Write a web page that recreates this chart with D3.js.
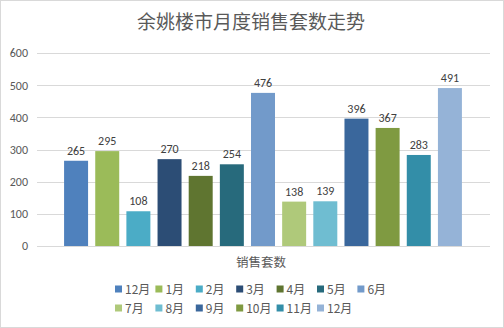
<!DOCTYPE html>
<html>
<head>
<meta charset="utf-8">
<script src="https://cdn.jsdelivr.net/npm/d3@7"></script>
<style>
  html, body { margin: 0; padding: 0; background: #fff; }
  svg { display: block; font-family: "Microsoft YaHei", "Noto Sans CJK SC", sans-serif; }
</style>
</head>
<body>
<svg id="chart" width="504" height="328"></svg>
<script>
// Monthly sales (units) — each month is its own series
const months = ["12月", "1月", "2月", "3月", "4月", "5月", "6月", "7月", "8月", "9月", "10月", "11月", "12月"];
const sales = [265, 295, 108, 270, 218, 254, 476, 138, 139, 396, 367, 283, 491];
const colors = ["#4F81BD", "#9BBB59", "#4BACC6", "#2C4D75", "#5F7530", "#276A7C", "#729ACA",
                "#AFC97A", "#6FBDD1", "#3A679C", "#7F9A41", "#338EA8", "#95B3D7"];
const yTicks = [0, 100, 200, 300, 400, 500, 600];
const title = "余姚楼市月度销售套数走势";
const categoryLabel = "销售套数";

const svg = d3.select("#chart");
const W = 504, H = 328;

// outer frame
svg.append("rect").attr("x", 0.5).attr("y", 0.5).attr("width", W - 1).attr("height", H - 1)
  .attr("fill", "#fff").attr("stroke", "#d9d9d9");

// title
svg.append("text").attr("x", 251).attr("y", 29).attr("text-anchor", "middle")
  .attr("font-size", 19).attr("fill", "#595959").text(title);

const plot = { left: 37, right: 490, top: 53, bottom: 246 };

const y = d3.scaleLinear().domain([0, 600]).range([plot.bottom, plot.top]);
const x = d3.scaleBand().domain(d3.range(months.length))
  .range([60.5, 465.5]).paddingInner(0.23).paddingOuter(0.115);

// gridlines
svg.append("g").selectAll("line").data(yTicks).join("line")
  .attr("x1", plot.left).attr("x2", plot.right)
  .attr("y1", d => Math.round(y(d)) + 0.5).attr("y2", d => Math.round(y(d)) + 0.5)
  .attr("stroke", "#d9d9d9").attr("stroke-width", 1);

// y axis labels
const yAxis = d3.axisLeft(y).tickValues(yTicks).tickSize(0).tickPadding(0);
const gy = svg.append("g").attr("transform", `translate(28,0)`).call(yAxis);
gy.select(".domain").remove();
gy.selectAll("text").attr("font-size", 12).attr("fill", "#595959")
  .attr("font-family", "Calibri, Carlito, 'Liberation Sans', sans-serif");

// bars
svg.append("g").selectAll("rect").data(sales).join("rect")
  .attr("x", (d, i) => x(i)).attr("width", x.bandwidth())
  .attr("y", d => y(d)).attr("height", d => y(0) - y(d))
  .attr("fill", (d, i) => colors[i]);

// value labels
svg.append("g").selectAll("text").data(sales).join("text")
  .attr("x", (d, i) => x(i) + x.bandwidth() / 2).attr("y", d => y(d) - 6)
  .attr("text-anchor", "middle").attr("font-size", 12).attr("fill", "#404040")
  .attr("font-family", "Calibri, Carlito, 'Liberation Sans', sans-serif")
  .text(d => d);

// category label
svg.append("text").attr("x", 261).attr("y", 267).attr("text-anchor", "middle")
  .attr("font-size", 12.5).attr("fill", "#595959").text(categoryLabel);

// legend: 7 columns, two rows
const legend = svg.append("g");
const items = legend.selectAll("g").data(months).join("g")
  .attr("transform", (d, i) => `translate(${115 + (i % 7) * 40.4},${289 + Math.floor(i / 7) * 19})`);
items.append("rect").attr("x", 0).attr("y", -3.5).attr("width", 7).attr("height", 7)
  .attr("fill", (d, i) => colors[i]);
items.append("text").attr("x", 10).attr("y", 4.5).attr("font-size", 12).attr("fill", "#595959")
  .text(d => d);
</script>
</body>
</html>
